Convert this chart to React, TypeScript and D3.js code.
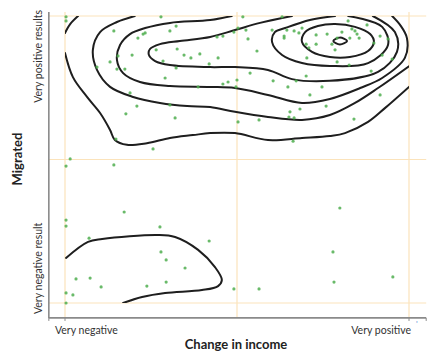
import React from 'react';
import * as d3 from 'd3';

const W = 428;
const H = 354;

const xTickLabels = ['Very negative', 'Very positive'];
const yTickLabels = ['Very negative result', 'Very positive results'];
const xTitle = 'Change in income';
const yTitle = 'Migrated';
const gridValues = [0, 50, 100];

type P = [number, number];

// Observations (x: change in income 0..100, y: migrated 0..100, jittered)
const pointsTop: P[] = [
  [0.3, 99.7], [0.3, 98.3], [14.2, 94.8], [21.2, 92.3], [22.7, 93.7], [15.4, 86.1], [19.5, 86.4],
  [13.1, 84.0], [9.3, 82.2], [15.1, 81.5], [17.4, 81.5], [18.9, 73.2], [20.9, 68.6], [17.7, 65.9],
  [14.8, 57.1], [27.9, 99.7], [32.3, 96.5], [30.5, 94.8], [23.3, 94.1], [44.2, 92.7], [45.9, 93.0],
  [49.1, 94.4], [50.3, 95.8], [26.5, 88.2], [32.6, 88.5], [34.6, 86.4], [36.6, 85.4], [39.2, 86.8],
  [44.5, 85.4], [41.9, 83.3], [28.5, 84.3], [32.3, 81.9], [29.1, 78.4], [38.7, 75.3], [45.9, 76.3],
  [47.4, 77.0], [49.7, 75.3], [50.0, 77.7], [30.5, 69.0], [32.0, 64.5], [50.3, 63.1], [25.6, 53.7],
  [51.7, 99.7], [63.1, 99.7], [52.6, 95.1], [60.2, 95.1], [64.5, 95.1], [66.6, 94.8], [68.0, 94.1],
  [63.7, 93.0], [63.7, 92.3], [53.2, 92.0], [73.0, 93.4], [76.2, 93.7], [70.1, 90.2], [70.9, 88.9],
  [73.0, 90.2], [55.8, 87.8], [70.3, 85.4], [53.8, 80.1], [70.1, 79.1], [60.5, 77.4], [67.2, 77.4],
  [64.8, 75.3], [74.7, 75.3], [71.2, 72.5], [75.9, 68.6], [68.3, 67.6], [65.4, 66.6], [65.1, 64.8],
  [66.6, 64.5], [56.4, 63.8], [66.3, 56.4], [82.3, 98.3], [87.8, 96.9], [80.5, 94.4], [83.4, 95.5],
  [84.3, 94.8], [84.9, 93.7], [85.5, 92.3], [82.8, 92.3], [79.1, 92.3], [77.6, 90.2], [78.5, 88.2],
  [89.8, 90.6], [91.6, 93.0], [93.9, 92.0], [92.2, 86.4], [95.1, 85.0], [79.1, 84.0], [82.6, 82.9],
  [89.0, 80.8], [91.6, 72.5], [84.0, 64.1], [68.9, 95.8], [1.5, 50.2],
];
const pointsBottom: P[] = [
  [0.3, 47.7], [14.2, 48.1], [17.2, 31.7], [0.3, 28.9], [0.3, 26.8], [27.6, 26.5], [7.0, 22.6],
  [41.9, 21.6], [27.9, 17.8], [29.4, 15.0], [34.9, 12.2], [3.2, 8.4], [7.3, 8.7], [10.5, 5.6],
  [23.8, 5.9], [29.4, 7.3], [0.3, 3.5], [2.3, 2.8], [0.3, 0], [49.1, 4.9], [79.9, 33.1],
  [77.9, 17.8], [78.2, 7.3], [95.3, 9.1], [56.4, 4.9],
];

// Density contour lines (open where they leave the plotted region)
const contourAFragment: P[] = [[0, 94.1], [1.5, 97.2], [3.8, 100]];
const contourA: P[] = [
  [0, 87.1], [2.3, 78.7], [6.4, 71.8], [10.2, 66.2], [13.1, 60.3], [14.5, 56.8], [18.0, 55.1],
  [23.8, 55.7], [30.5, 57.5], [37.2, 58.5], [42.2, 59.2], [49.4, 59.2], [59.0, 56.8], [68.9, 57.5],
  [77.0, 58.2], [81.4, 59.2], [88.1, 63.1], [93.0, 67.9], [100, 75.3],
];
const contourB: P[] = [
  [20.3, 100], [15.1, 97.9], [10.2, 94.4], [8.1, 88.2], [9.3, 81.2], [13.1, 75.3], [19.8, 71.8],
  [27.6, 69.7], [35.5, 68.6], [42.2, 68.3], [49.4, 66.6], [59.0, 64.8], [68.9, 63.8], [77.0, 65.5],
  [84.3, 69.7], [91.0, 74.9], [100, 82.5],
];
const contourC: P[] = [
  [48.5, 100], [42.2, 98.6], [30.5, 97.6], [23.3, 95.8], [18.9, 93.7], [16.0, 89.9], [15.1, 84.7],
  [16.9, 80.1], [21.8, 77.0], [30.5, 75.6], [42.2, 75.3], [49.4, 74.9], [59.0, 72.5], [68.9, 69.7],
  [77.0, 71.1], [85.8, 74.9], [92.2, 78.4], [98.8, 85.4], [99.4, 92.3], [97.4, 96.9], [95.1, 100],
];
const contourD: P[] = [
  [66.0, 100], [56.7, 97.6], [49.4, 95.1], [42.2, 92.7], [33.4, 91.3], [27.6, 90.2], [24.7, 88.5],
  [24.4, 86.4], [26.2, 84.3], [30.5, 82.9], [42.2, 82.2], [49.4, 82.2], [59.0, 81.2], [66.0, 78.0],
  [77.0, 77.4], [91.0, 80.5], [96.5, 87.5], [95.9, 94.4], [89.5, 100],
];
const contourE: P[] = [
  [78.5, 100], [71.2, 98.6], [64.0, 95.8], [61.0, 94.4], [60.2, 90.9], [63.1, 86.4], [68.9, 83.6],
  [77.0, 82.6], [88.1, 83.6], [93.9, 89.9], [92.2, 96.2], [82.3, 100],
];
const contourF: P[] = [
  [68.9, 90.9], [69.8, 94.4], [73.5, 96.5], [78.5, 97.2], [84.3, 96.2], [88.7, 93.7], [89.8, 90.9],
  [88.1, 87.8], [82.8, 85.7], [77.0, 85.7], [71.8, 87.5],
];
const contourG: P[] = [[78.0, 91.3], [79.9, 92.5], [82.0, 91.3], [79.9, 90.1]];
const contourH: P[] = [
  [0.3, 15.7], [6.7, 21.3], [10.8, 22.3], [27.0, 23.7], [32.0, 23.0], [38.7, 18.5], [43.6, 12.5],
  [45.6, 8.0], [44.5, 5.9], [39.8, 4.5], [29.1, 3.5], [22.4, 2.1], [16.9, 0],
];

const openContours = [contourAFragment, contourA, contourB, contourC, contourD, contourE, contourH];
const closedContours = [contourF, contourG];

export default function App() {
  const x = d3.scaleLinear().domain([0, 100]).range([65, 409]);
  const y = d3.scaleLinear().domain([0, 100]).range([303, 16]);
  const xMin = -4.7, xMax = 105, yMin = -5.2, yMax = 101.4;

  const line = d3.line<P>().x(d => x(d[0])).y(d => y(d[1])).curve(d3.curveCatmullRom.alpha(0.5));
  const closed = d3.line<P>().x(d => x(d[0])).y(d => y(d[1])).curve(d3.curveCatmullRomClosed.alpha(0.5));

  const font = "Lato, 'Open Sans', sans-serif";
  const grid = '#fbe3bb';
  const axis = '#8a8a8a';
  const pts = [...pointsTop, ...pointsBottom];

  return (
    <svg width={W} height={H} style={{ position: 'absolute', left: 0, top: 0, background: '#fff' }}>
      <defs>
        <clipPath id="plot">
          <rect x={x(0)} y={y(100)} width={x(100) - x(0)} height={y(0) - y(100)} />
        </clipPath>
      </defs>
      {gridValues.map(v => (
        <line key={'gx' + v} x1={x(v)} x2={x(v)} y1={y(yMax)} y2={y(yMin)} stroke={grid} strokeWidth={1.2} />
      ))}
      {gridValues.map(v => (
        <line key={'gy' + v} x1={x(xMin)} x2={x(xMax)} y1={y(v)} y2={y(v)} stroke={grid} strokeWidth={1.2} />
      ))}
      <line x1={x(xMin)} x2={x(xMin)} y1={y(yMax)} y2={y(yMin)} stroke={axis} strokeWidth={1.6} />
      <line x1={x(xMin)} x2={x(xMax)} y1={y(yMin)} y2={y(yMin)} stroke={axis} strokeWidth={1.6} />
      {[xMin, 0, 100, xMax].map((v, i) => (
        <line key={'tk' + i} x1={x(v)} x2={x(v)} y1={y(yMin)} y2={y(yMin) + 3} stroke={axis} strokeWidth={1} />
      ))}
      <g clipPath="url(#plot)">
        {openContours.map((c, i) => (
          <path key={'o' + i} d={line(c) || ''} fill="none" stroke="#1e1e1e" strokeWidth={2} strokeLinecap="round" />
        ))}
        {closedContours.map((c, i) => (
          <path key={'c' + i} d={closed(c) || ''} fill="none" stroke="#1e1e1e" strokeWidth={2} />
        ))}
      </g>
      {pts.map((p, i) => (
        <circle key={'p' + i} cx={x(p[0])} cy={y(p[1])} r={1.6} fill="#4fae4f" fillOpacity={0.85} />
      ))}
      <text x={x(0) - 10} y={334} fontFamily={font} fontSize={10.5} fill="#333" textAnchor="start">{xTickLabels[0]}</text>
      <text x={x(100) + 2} y={334} fontFamily={font} fontSize={10.5} fill="#333" textAnchor="end">{xTickLabels[1]}</text>
      <text x={416} y={327} fontFamily={font} fontSize={8} fill="#4a7fd4">'</text>
      <text transform={`translate(42,${y(0) + 11}) rotate(-90)`} fontFamily={font} fontSize={10.5} fill="#333" textAnchor="start">{yTickLabels[0]}</text>
      <text transform={`translate(42,${y(100) - 6}) rotate(-90)`} fontFamily={font} fontSize={10.5} fill="#333" textAnchor="end">{yTickLabels[1]}</text>
      <text x={236} y={349} fontFamily={font} fontSize={13} fontWeight="bold" fill="#222" textAnchor="middle">{xTitle}</text>
      <text transform={`translate(22,159) rotate(-90)`} fontFamily={font} fontSize={13} fontWeight="bold" fill="#222" textAnchor="middle">{yTitle}</text>
    </svg>
  );
}
